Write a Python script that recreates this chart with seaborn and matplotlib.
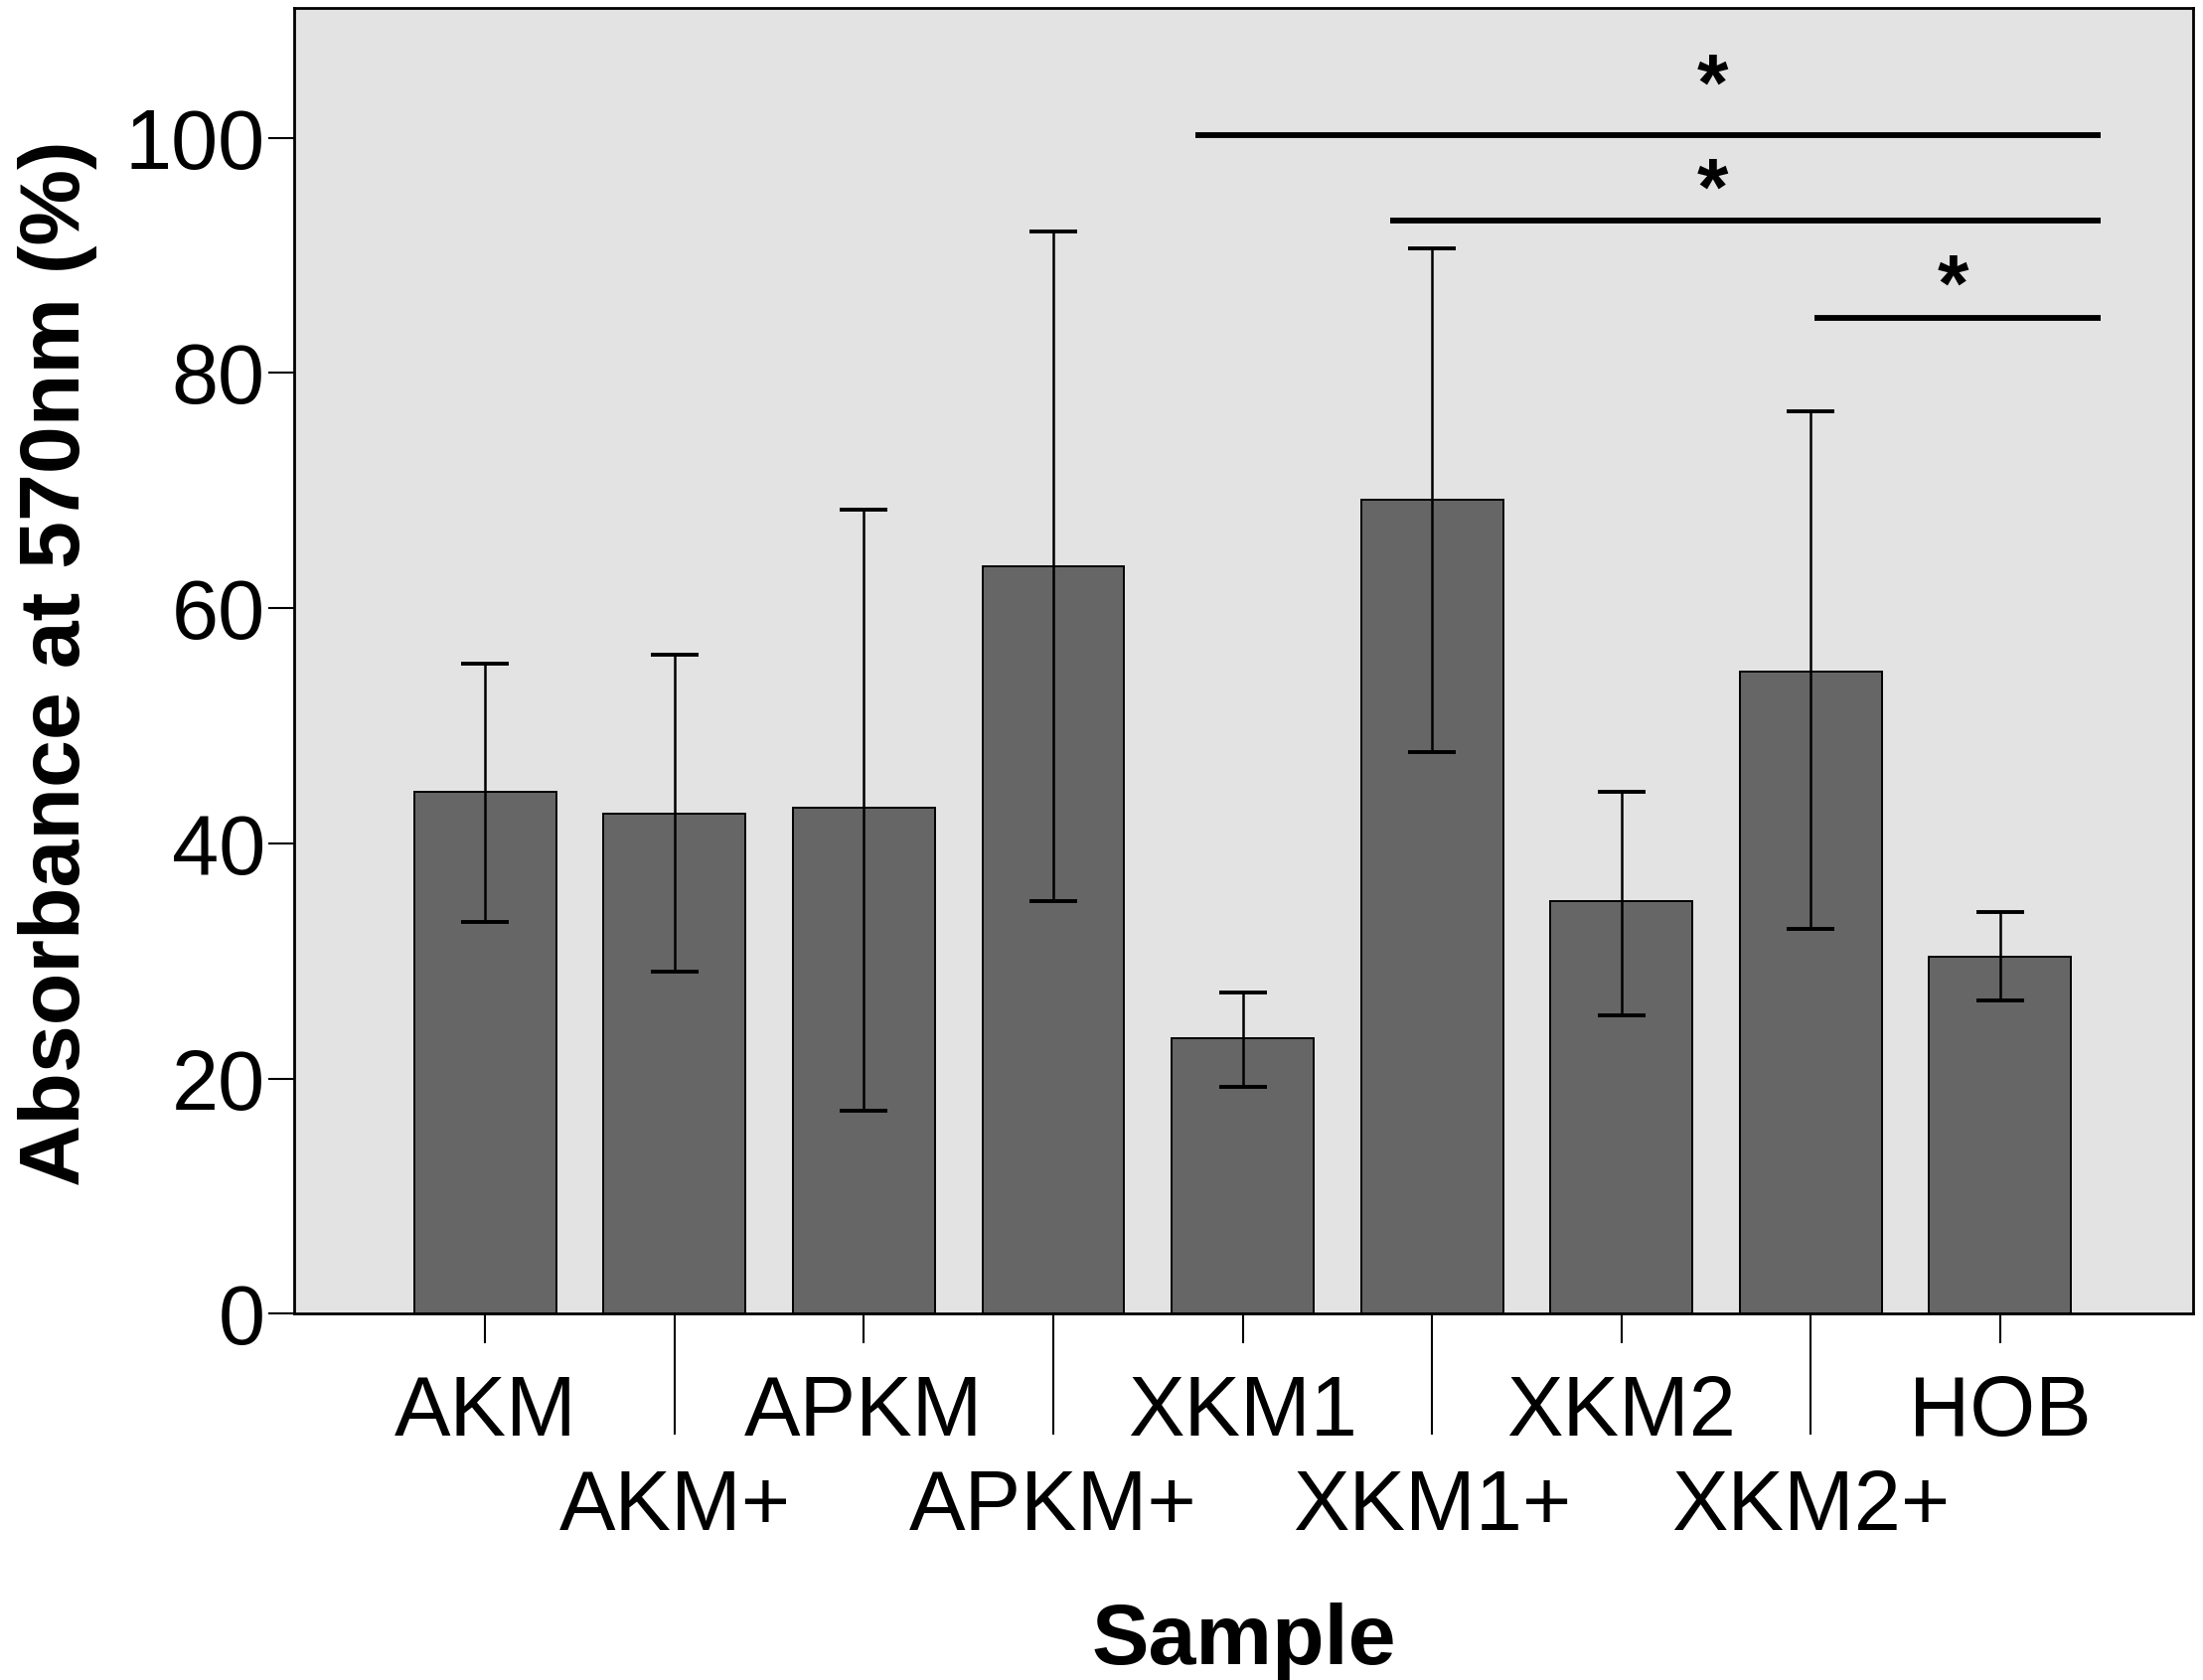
import numpy as np
import pandas as pd
import matplotlib
matplotlib.use("Agg")
import matplotlib.pyplot as plt
import seaborn as sns

# ---- data ----
samples = ["AKM", "AKM+", "APKM", "APKM+", "XKM1", "XKM1+", "XKM2", "XKM2+", "HOB"]
means = [44.4, 42.5, 43.0, 63.6, 23.4, 69.2, 35.1, 54.6, 30.4]
upper = [55.3, 56.0, 68.4, 92.0, 27.3, 90.6, 44.4, 76.7, 34.2]
lower = [33.3, 29.1, 17.3, 35.1, 19.3, 47.8, 25.4, 32.7, 26.6]
yticks = [0, 20, 40, 60, 80, 100]

# significance annotations
sig_x0 = [3.75, 4.78, 7.02]
sig_x1 = [8.53, 8.53, 8.53]
sig_y = [100.2, 93.0, 84.7]
star_x = [6.48, 6.48, 7.75]
star_y = [106.5, 97.6, 89.4]

sns.set_style("ticks")
plt.rcParams["font.family"] = ["Liberation Sans", "DejaVu Sans"]
for k in ["text.color", "axes.labelcolor", "xtick.color", "ytick.color",
          "xtick.labelcolor", "ytick.labelcolor"]:
    plt.rcParams[k] = "black"

fig = plt.figure(figsize=(22.17, 16.91), dpi=100)
ax = fig.add_axes([0.1335, 0.218, 0.8620, 0.777])

df = pd.DataFrame({"Sample": samples, "Absorbance": means})
sns.barplot(data=df, x="Sample", y="Absorbance", color="#666666", saturation=1,
            edgecolor="black", linewidth=1.4, width=0.75, errorbar=None, ax=ax)

pos = np.arange(len(samples))
m = np.array(means)
yerr = [m - np.array(lower), np.array(upper) - m]
ax.errorbar(pos, m, yerr=yerr, fmt="none", ecolor="black", elinewidth=1.8,
            capsize=17, capthick=2.8, zorder=5)

for x0, x1, y in zip(sig_x0, sig_x1, sig_y):
    ax.plot([x0, x1], [y, y], color="black", lw=4.2, solid_capstyle="butt")
for x, y in zip(star_x, star_y):
    ax.text(x, y - 4.1, "*", ha="center", va="baseline", fontsize=58,
            fontweight="bold", color="black")

ax.set_facecolor("#e3e3e3")
ax.set_xlim(-1.01, 9.02)
ax.set_ylim(0, 111)
ax.set_yticks(yticks)
ax.set_yticklabels([str(t) for t in yticks])

ax.set_xticks(pos[::2], labels=samples[::2])
ax.set_xticks(pos[1::2], labels=samples[1::2], minor=True)
ax.tick_params(axis="x", which="major", bottom=True, length=21.6, width=1.5,
               pad=22, labelsize=61, color="black", labelcolor="black")
ax.tick_params(axis="x", which="minor", bottom=True, length=88, width=1.5,
               pad=24, labelsize=61, color="black", labelcolor="black")
ax.tick_params(axis="y", left=True, length=19, width=1.5, pad=2,
               labelsize=61, color="black", labelcolor="black")

for s in ax.spines.values():
    s.set_visible(True)
    s.set_color("black")
    s.set_linewidth(2)

ax.set_ylabel("Absorbance at 570nm (%)", fontsize=62, fontweight="bold", color="black")
ax.yaxis.label.set_va("center")
ax.yaxis.set_label_coords(-0.1247, 0.498)
ax.set_xlabel("Sample", fontsize=62, fontweight="bold", color="black")
ax.xaxis.set_label_coords(0.5, -0.221)

fig.savefig("out.png", dpi=100)
